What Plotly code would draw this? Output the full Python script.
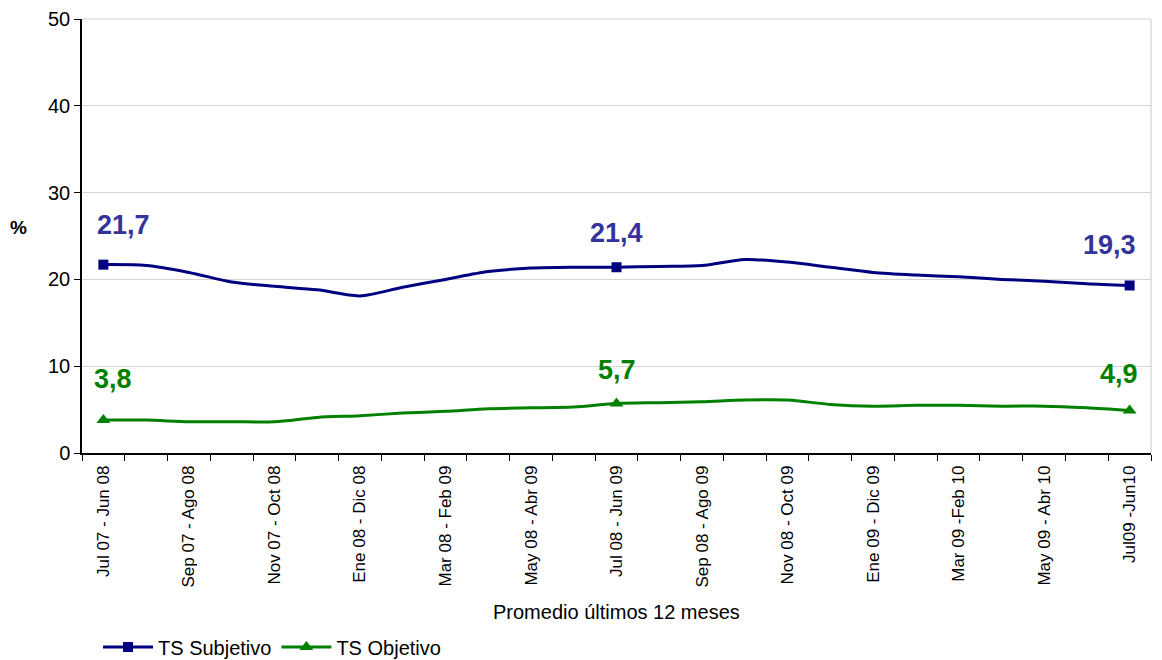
import plotly.graph_objects as go

# periodos moviles de 12 meses
periodos = [
    "Jul 07 - Jun 08", "Ago 07 - Jul 08", "Sep 07 - Ago 08", "Oct 07 - Sep 08",
    "Nov 07 - Oct 08", "Dic 07 - Nov 08", "Ene 08 - Dic 08", "Feb 08 - Ene 09",
    "Mar 08 - Feb 09", "Abr 08 - Mar 09", "May 08 - Abr 09", "Jun 08 - May 09",
    "Jul 08 - Jun 09", "Ago 08 - Jul 09", "Sep 08 - Ago 09", "Oct 08 - Sep 09",
    "Nov 08 - Oct 09", "Dic 08 - Nov 09", "Ene 09 - Dic 09", "Feb 09 - Ene 10",
    "Mar 09 -Feb 10", "Abr 09 - Mar 10", "May 09 - Abr 10", "Jun 09 - May 10",
    "Jul09 -Jun10",
]

ts_subjetivo = [21.7, 21.6, 20.8, 19.7, 19.2, 18.8, 18.1, 19.1, 20.0, 20.9,
                21.3, 21.4, 21.4, 21.5, 21.6, 22.3, 22.0, 21.4, 20.8, 20.5,
                20.3, 20.0, 19.8, 19.5, 19.3]
ts_objetivo = [3.8, 3.8, 3.6, 3.6, 3.6, 4.1, 4.3, 4.6, 4.8, 5.1,
               5.2, 5.3, 5.7, 5.8, 5.9, 6.1, 6.1, 5.6, 5.4, 5.5,
               5.5, 5.4, 5.4, 5.2, 4.9]

destacados = [0, 12, 24]   # puntos con marcador y etiqueta
y_ticks = [0, 10, 20, 30, 40, 50]

AZUL = "#000080"
AZUL_TXT = "#333399"
VERDE = "#008000"
GRIS = "#d4d4d4"
FONT = "Liberation Sans, Arial, sans-serif"

x = list(range(len(periodos)))

fig = go.Figure()

series = [
    ("TS Subjetivo", ts_subjetivo, AZUL, AZUL_TXT, "square", 10,
     [20, 0, -20], [40, 34, 40]),
    ("TS Objetivo", ts_objetivo, VERDE, VERDE, "triangle-up", 12,
     [10, 0, -11], [41, 34, 36]),
]

for nombre, vals, col, col_txt, simbolo, msize, xshifts, yshifts in series:
    # linea suavizada
    fig.add_trace(go.Scatter(
        x=x, y=vals, mode="lines", showlegend=False, hoverinfo="skip",
        line=dict(color=col, width=3, shape="spline", smoothing=0.8)))
    # marcadores en los puntos destacados
    fig.add_trace(go.Scatter(
        x=[x[i] for i in destacados], y=[vals[i] for i in destacados],
        mode="markers", showlegend=False,
        marker=dict(symbol=simbolo, size=msize, color=col)))
    # entrada de leyenda
    fig.add_trace(go.Scatter(
        x=[None], y=[None], mode="lines+markers", name=nombre,
        line=dict(color=col, width=3),
        marker=dict(symbol=simbolo, size=msize, color=col)))
    for i, xs, ys in zip(destacados, xshifts, yshifts):
        fig.add_annotation(
            x=x[i], y=vals[i], text=f"{vals[i]:.1f}".replace(".", ","),
            showarrow=False, yshift=ys, xshift=xs,
            font=dict(family=FONT, size=27, color=col_txt, weight="bold"))

fig.add_annotation(xref="paper", yref="paper", x=-0.059, y=0.52, text="<b>%</b>",
                   xanchor="center", yanchor="middle", showarrow=False,
                   font=dict(family=FONT, size=19, color="black"))
fig.add_annotation(xref="paper", yref="paper", x=0.5, y=-0.366,
                   xanchor="center", yanchor="middle",
                   text="Promedio últimos 12 meses", showarrow=False,
                   font=dict(family=FONT, size=20, color="black"))

# borde derecho y linea superior del area de trazado
fig.add_shape(type="line", xref="paper", yref="paper", x0=1, x1=1, y0=0, y1=1,
              line=dict(color="#c8c8c8", width=1))
fig.add_shape(type="line", xref="paper", yref="paper", x0=0, x1=1, y0=1, y1=1,
              line=dict(color=GRIS, width=1))

fig.update_xaxes(
    range=[-0.5, len(periodos) - 0.5], automargin=False,
    tickvals=x[::2], ticktext=periodos[::2], tickangle=-90,
    ticks="outside", ticklen=4, tickcolor="rgba(0,0,0,0)",
    minor=dict(tickmode="linear", tick0=-0.5, dtick=1, ticks="outside",
               ticklen=6, tickcolor="black", showgrid=False),
    showline=True, linecolor="black", linewidth=1.5, showgrid=False,
    zeroline=False, tickfont=dict(family=FONT, size=17, color="black"))
fig.update_yaxes(
    range=[0, 50], tickvals=y_ticks, ticks="outside", ticklen=6, automargin=False,
    ticklabeloverflow="allow",
    tickcolor="black", showline=True, linecolor="black", linewidth=1.5,
    showgrid=True, gridcolor=GRIS, gridwidth=1, zeroline=False,
    tickfont=dict(family=FONT, size=20, color="black"))

fig.update_layout(
    width=1154, height=652, paper_bgcolor="white", plot_bgcolor="white",
    margin=dict(l=74, r=11, t=11, b=207, autoexpand=False),
    font=dict(family=FONT),
    legend=dict(orientation="h", x=0.078, y=0.02, xref="container", yref="container",
                xanchor="left", yanchor="middle",
                font=dict(family=FONT, size=20, color="black"),
                itemwidth=50, traceorder="normal"),
)

fig.write_html("out.html")
